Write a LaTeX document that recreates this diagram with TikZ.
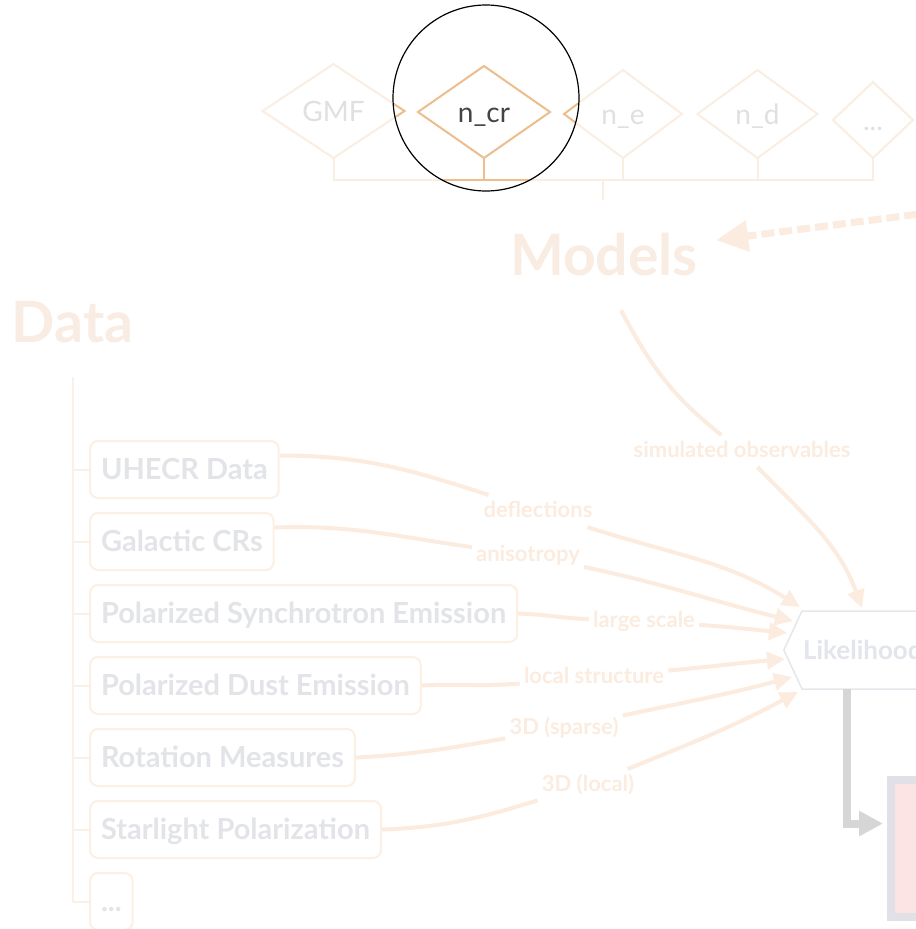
\documentclass[tikz,border=0pt]{standalone}
\usepackage{fontspec}
\setmainfont{Lato}
\usetikzlibrary{shapes.geometric,shapes.symbols,arrows.meta,calc}

\definecolor{flowc}{RGB}{251,236,223}
\definecolor{titlec}{RGB}{249,236,226}
\definecolor{treec}{RGB}{251,240,230}
\definecolor{boxline}{RGB}{252,240,229}
\definecolor{boxtext}{RGB}{226,228,232}
\definecolor{dialine}{RGB}{250,238,226}
\definecolor{diatext}{RGB}{224,224,224}
\definecolor{diafull}{RGB}{237,189,140}
\definecolor{textfull}{RGB}{68,68,68}
\definecolor{likline}{RGB}{228,231,236}
\definecolor{liktext}{RGB}{226,229,235}
\definecolor{stepc}{RGB}{214,214,214}
\definecolor{resline}{RGB}{224,224,230}
\definecolor{resfill}{RGB}{252,228,228}

% row of model components, joined by a bracket that feeds "Models"
% #1 name suffix, #2 line colour, #3 text colour
\newcommand\modelrow[3]{%
  \begin{scope}[every node/.append style={draw=#2, text=#3}]
    \node[dianode, minimum width=106.5pt, minimum height=70.5pt] (gmf#1) at (333.5,158) {GMF};
    \node[dianode, minimum width=99pt,    minimum height=69pt]   (ncr#1) at (484,158)   {n\_cr};
    \node[dianode, minimum width=88.5pt,  minimum height=66pt]   (ne#1)  at (623,158)   {n\_e};
    \node[dianode, minimum width=90pt,    minimum height=66pt]   (nd#1)  at (757.5,158) {n\_d};
    \node[dianode, minimum width=60pt,    minimum height=57pt]   (etc#1) at (873,158)   {...};
  \end{scope}
  \draw[tree, draw=#2] (gmf#1.south) -- (gmf#1.south |- bar) -- (etc#1.south |- bar) -- (etc#1.south);
  \foreach \d in {ncr#1,ne#1,nd#1} \draw[tree, draw=#2] (\d.south) -- (\d.south |- bar);
  \draw[tree, draw=#2] ($(gmf#1.south |- bar)!0.5!(etc#1.south |- bar)$) -- ++(0,20);
}

\begin{document}
\begin{tikzpicture}[x=0.75pt, y=-0.75pt,
  tree/.style={draw=treec, line width=1.5pt},
  dianode/.style={diamond, anchor=south, inner sep=0pt, outer sep=0pt, line width=1.5pt,
    font=\fontsize{21}{25}\selectfont, text height=15pt, text depth=0pt},
  title/.style={font=\fontsize{42.75}{50}\selectfont\bfseries, text=titlec,
    text height=30.8pt, text depth=0pt, inner sep=0pt, anchor=base},
  databox/.style={draw=boxline, line width=1.5pt, rounded corners=6pt, inner xsep=8.25pt,
    inner ysep=0pt, minimum height=42.75pt, anchor=west, text=boxtext,
    font=\fontsize{21.75}{26}\selectfont\bfseries, text height=15.7pt, text depth=0pt},
  lbl/.style={text=flowc, font=\fontsize{16.5}{20}\selectfont\bfseries,
    text height=12.4pt, text depth=3.3pt, inner xsep=3pt, inner ysep=4pt},
  flow/.style={draw=flowc, line width=3pt},
  tipped/.style={-{Triangle[length=13.5pt,width=12.75pt]}},
]
\useasboundingbox (0,0) rectangle (915,929);
\fill[white] (0,0) rectangle (915,929);

% ---- model components
\coordinate (bar) at (0,180);
\modelrow{}{dialine}{diatext}

% ---- titles
\node[title, inner xsep=13.5pt] (models) at (604,275) {Models};
\node[title] (data) at (72.5,342) {Data};

% ---- data sets
\node[databox] (uhecr) at (89,469.5) {UHECR Data};
\node[databox] (gal)   at (89,541.5) {Galactic CRs};
\node[databox] (sync)  at (89,613.5) {Polarized Synchrotron Emission};
\node[databox] (dust)  at (89,685.5) {Polarized Dust Emission};
\node[databox] (rot)   at (89,757.5) {Rotation Measures};
\node[databox] (star)  at (89,829.5) {Starlight Polarization};
\node[databox] (more)  at (89,901.5) {...};

\draw[tree] ($(data.south)+(0,35)$) -- (data.south |- more.west);
\foreach \b in {uhecr,gal,sync,dust,rot,star,more}
  \draw[tree] (data.south |- \b.west) -- (\b.west);

% ---- likelihood and result
\node[shape=signal, signal to=west, signal pointer angle=130, draw=likline, line width=1.125pt,
  minimum height=58.5pt, inner xsep=0.75pt, text=liktext,
  font=\fontsize{19.5}{24}\selectfont\bfseries, text height=14.6pt, text depth=0pt,
  anchor=west] (lik) at (783,650) {Likelihood};

\node[draw=resline, fill=resfill, line width=6pt, minimum width=300pt, minimum height=102.75pt,
  inner sep=0pt, anchor=north west] (res) at (887,776) {};
\draw[draw=stepc, line width=6pt, shorten >=3pt, -{Triangle[length=18pt,width=18pt]}]
  ($(lik.west)+(63.7,39)$) |- ($(res.north west)!0.328!(res.south west)$);

% ---- edge labels
\node[lbl] (ldef)    at (538,511) {deflections};
\node[lbl] (lani)    at (528,555) {anisotropy};
\node[lbl] (llarge)  at (644,621) {large scale};
\node[lbl] (lloc)    at (594,677) {local structure};
\node[lbl] (lsparse) at (564,728) {3D (sparse)};
\node[lbl] (l3d)     at (588,785) {3D (local)};
\node[lbl] (lsim)    at (742,451) {simulated observables};

% ---- data into the likelihood
\draw[flow] ($(uhecr.east)+(0,-14)$) to[out=0,in=162] (ldef);
\draw[flow,tipped] (ldef) to[out=-18,in=148] ($(lik.west)+(17,-43)$);
\draw[flow] ($(gal.east)+(0,-14)$) to[out=2,in=172] (lani);
\draw[flow,tipped] (lani) to[out=-12,in=166] ($(lik.west)+(10,-29)$);
\draw[flow] (sync.east) to[out=-2,in=178] (llarge);
\draw[flow,tipped] (llarge) to[out=-4,in=174] ($(lik.west)+(4,-17)$);
\draw[flow] (dust.east) to[out=3,in=185] (lloc);
\draw[flow,tipped] (lloc) to[out=5,in=185] ($(lik.west)+(2,9)$);
\draw[flow] (rot.east) to[out=3,in=-170] (lsparse);
\draw[flow,tipped] (lsparse) to[out=12,in=-165] ($(lik.west)+(9,27)$);
\draw[flow] (star.east) to[out=2,in=-163] (l3d);
\draw[flow,tipped] (l3d) to[out=22,in=-152] ($(lik.west)+(15,42)$);

% ---- models into the likelihood
\draw[flow] ($(models.south)+(17,35)$) to[out=-62,in=142] (lsim);
\draw[flow,tipped] (lsim) to[out=-46,in=110] ($(lik.west)+(79,-42)$);

% ---- feedback into the models
\coordinate (ext) at (935,212);
\draw[draw=flowc, line width=5.25pt, dash pattern=on 9.75pt off 3.75pt,
  -{Triangle[length=24pt,width=22.5pt]}] (ext) -- (models);

% ---- magnifier over n_cr
\fill[white] (486,98) circle[radius=69.75pt];
\begin{scope}
  \clip (486,98) circle[radius=69.75pt];
  \modelrow{L}{diafull}{textfull}
\end{scope}
\draw[black, line width=0.9pt] (486,98) circle[radius=69.75pt];
\end{tikzpicture}
\end{document}
